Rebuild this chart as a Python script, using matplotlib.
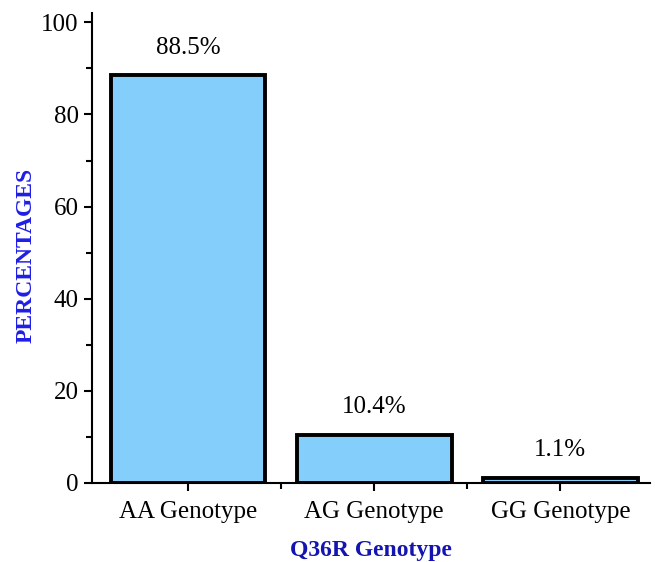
import numpy as np
import matplotlib.pyplot as plt
from matplotlib.ticker import MultipleLocator, FixedLocator

categories = ["AA Genotype", "AG Genotype", "GG Genotype"]
percentages = [88.5, 10.4, 1.1]
bar_labels = ["88.5%", "10.4%", "1.1%"]

plt.rcParams["font.family"] = ["Liberation Serif", "DejaVu Serif"]

fig = plt.figure(figsize=(6.55, 5.62), dpi=100)
ax = fig.add_axes([0.1405, 0.1406, 0.8515, 0.836])

x = np.arange(len(categories))
ax.bar(x, percentages, width=0.83, color="#84cefc", edgecolor="black",
       linewidth=2.8)

for xi, val, lab in zip(x, percentages, bar_labels):
    ax.annotate(lab, (xi, val), xytext=(0, 12), textcoords="offset points",
                ha="center", va="bottom", fontsize=18)

ax.set_xlim(-0.516, 2.48)
ax.set_ylim(0, 102)
ax.set_xticks(x)
ax.set_xticklabels(categories)
ax.xaxis.set_minor_locator(FixedLocator([0.5, 1.5]))
ax.yaxis.set_major_locator(MultipleLocator(20))
ax.yaxis.set_minor_locator(MultipleLocator(10))

ax.spines["top"].set_visible(False)
ax.spines["right"].set_visible(False)
ax.spines["left"].set_linewidth(1.5)
ax.spines["bottom"].set_linewidth(1.5)
ax.tick_params(which="major", direction="out", length=6, width=1.5,
               labelsize=18)
ax.tick_params(axis="x", which="major", pad=7)
ax.tick_params(which="minor", direction="out", length=4, width=1.5)

ax.set_ylabel("PERCENTAGES", color="#1e1ee8", fontweight="bold",
              fontsize=17)
ax.yaxis.set_label_coords(-0.099, 0.485)
ax.set_xlabel("Q36R Genotype", color="#1414b0", fontweight="bold",
              fontsize=17, labelpad=12)

fig.savefig("out.png", dpi=100)
